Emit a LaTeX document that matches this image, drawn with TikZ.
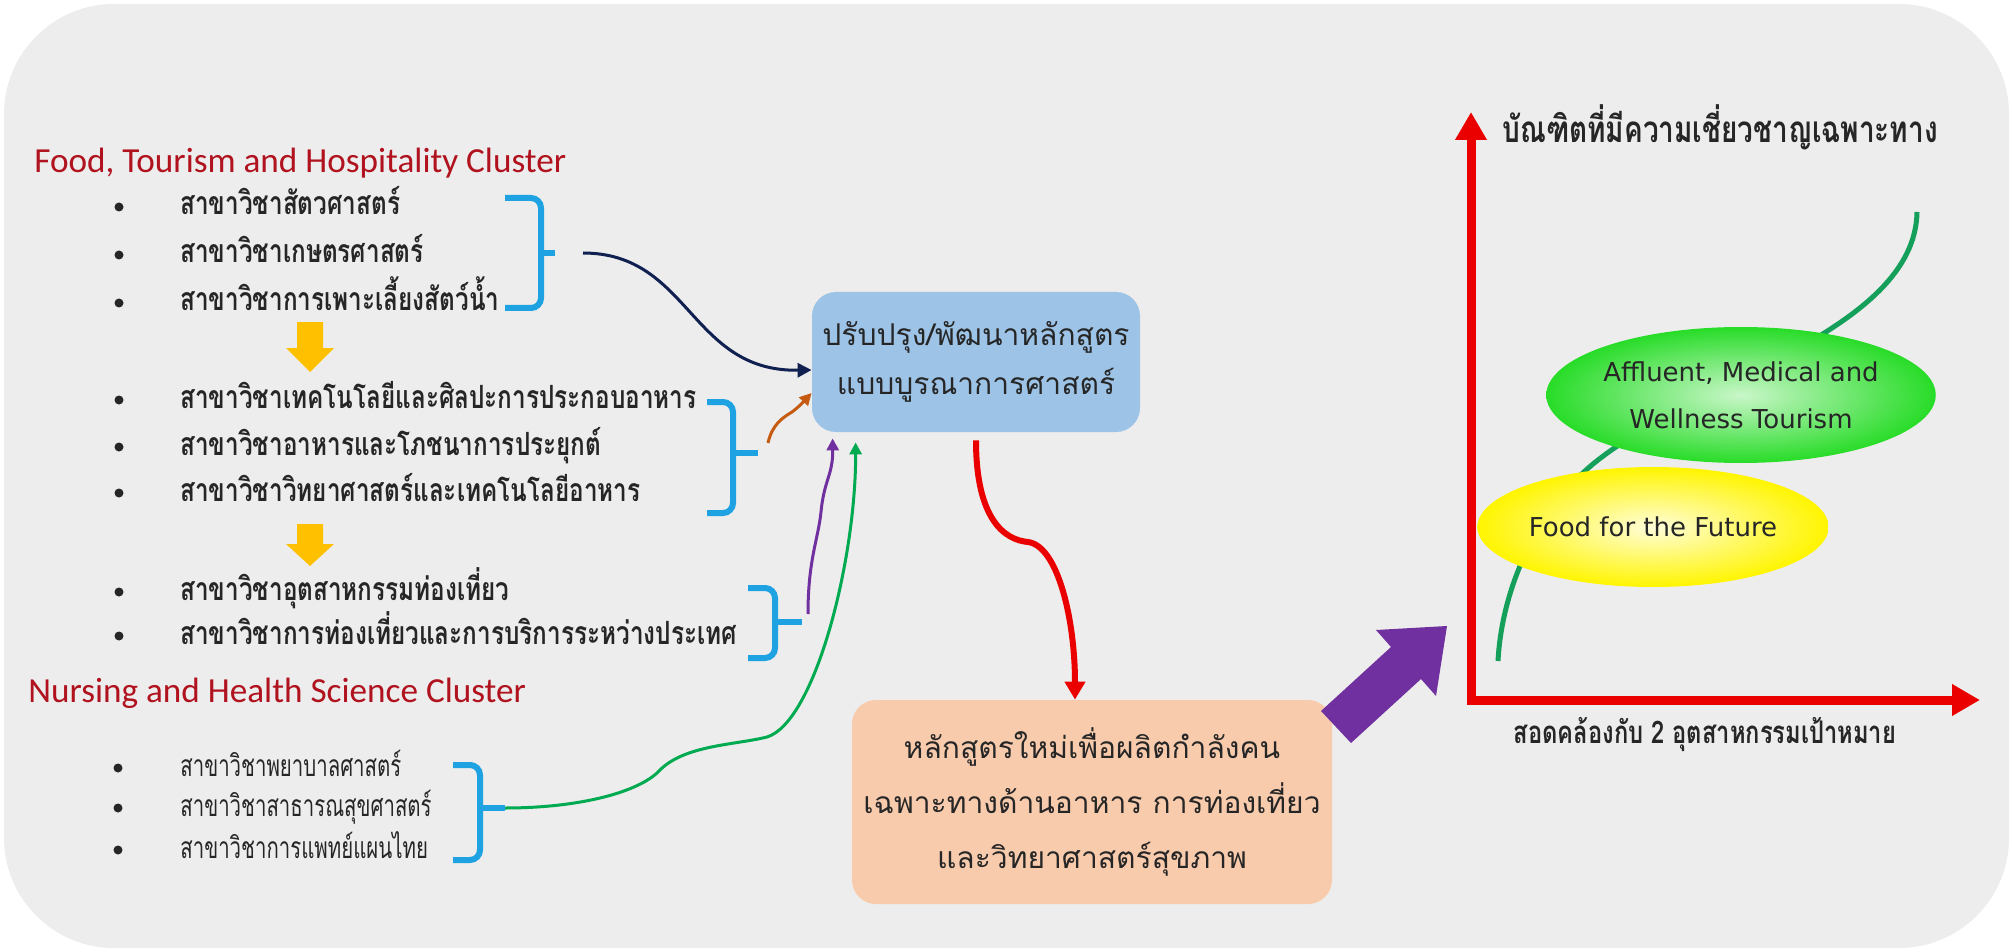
\documentclass[tikz,border=0pt]{standalone}
\usepackage{fontspec}
\setmainfont{Carlito}
\newfontfamily\thaifont[Script=Thai]{Loma}
\newfontfamily\thaicond[Script=Thai,FakeStretch=0.76]{Loma}
\newfontfamily\thainarrow[Script=Thai,FakeStretch=0.68]{Loma}
\newfontfamily\engfont{DejaVu Sans}
\usetikzlibrary{shapes}
\usetikzlibrary{positioning}
\usetikzlibrary{arrows.meta}
\definecolor{panelgray}{RGB}{237,237,237}
\definecolor{clusterred}{RGB}{176,18,30}
\definecolor{bracecyan}{RGB}{30,162,226}
\definecolor{boxblue}{RGB}{157,195,230}
\definecolor{boxpeach}{RGB}{248,203,173}
\definecolor{amber}{RGB}{255,192,0}
\definecolor{navyline}{RGB}{16,32,80}
\definecolor{rustline}{RGB}{197,90,17}
\definecolor{violetline}{RGB}{112,48,160}
\definecolor{grassline}{RGB}{0,170,80}
\definecolor{axisred}{RGB}{235,0,0}
\definecolor{curvegreen}{RGB}{20,160,90}
\definecolor{limegreen}{RGB}{40,220,40}
\definecolor{lemon}{RGB}{255,245,0}
\tikzset{
    mycluster/.style = {anchor=west, inner sep=0pt, font=\fontsize{17.6}{18}\selectfont, text=clusterred},
    mybullet/.style = {circle, fill=black!85, inner sep=0pt, minimum size=4.5pt},
    myitem/.style = {anchor=base west, inner sep=0pt, font=\thaicond\bfseries\fontsize{16}{16}\selectfont, text=black!85},
    myitemn/.style = {anchor=base west, inner sep=0pt, font=\thainarrow\fontsize{15}{15}\selectfont, text=black!85},
    mybox/.style = {rounded corners=12pt, align=center, inner sep=0pt, text=black!85},
    myell/.style = {ellipse, inner sep=0pt, align=center, font=\engfont\fontsize{13}{23.5}\selectfont, text=black!85},
    mylabel/.style = {inner sep=0pt, font=\thaicond\bfseries, text=black!85},
    brace/.style = {line width=3pt, bracecyan, rounded corners=5pt},
    yarrow/.style = {fill=amber},
    edgenavy/.style = {line width=1.5pt, navyline, -{Triangle[length=7pt,width=7pt]}},
    edgerust/.style = {line width=1.5pt, rustline, -{Triangle[length=6pt,width=6pt]}},
    edgeviolet/.style = {line width=1.5pt, violetline, -{Triangle[length=6pt,width=6pt]}},
    edgegrass/.style = {line width=1.5pt, grassline, -{Triangle[length=6pt,width=6pt]}},
    edgered/.style = {line width=3pt, axisred, -{Triangle[length=9pt,width=10pt]}},
    axis/.style = {line width=4.5pt, axisred, line join=miter, {Triangle[length=14pt,width=15pt]}-{Triangle[length=14pt,width=15pt]}},
}

\begin{document}
\begin{tikzpicture}[x=0.5pt,y=-0.5pt]
\useasboundingbox (0,0) rectangle (2013,952);
\fill[panelgray, rounded corners=55pt] (4,4) rectangle (2009,948);

% clusters
\node[mycluster] at (  34, 163) (clfood) {Food, Tourism and Hospitality Cluster};
\node[mycluster] at (  28, 693) (clnurse) {Nursing and Health Science Cluster};

% group 1
\node[mybullet] at ( 119, 207) (d1) {};
\node[mybullet] at ( 119, 255) (d2) {};
\node[mybullet] at ( 119, 303) (d3) {};
\node[myitem] at ( 180, 215) (a1) {สาขาวิชาสัตวศาสตร์};
\node[myitem] at ( 180, 263) (a2) {สาขาวิชาเกษตรศาสตร์};
\node[myitem] at ( 180, 311) (a3) {สาขาวิชาการเพาะเลี้ยงสัตว์น้ำ};
\draw[brace] (505,198) -- (541,198) -- (541,308) -- (505,308);
\draw[brace] (541,253) -- (555,253);
\coordinate (tipA) at (555,253);

% group 2
\fill[yarrow, shift={(310,322)}] (-13,0) -- (13,0) -- (13,26) -- (24,26) -- (0,50) -- (-24,26) -- (-13,26) -- cycle;
\node[mybullet] at ( 119, 400) (d4) {};
\node[mybullet] at ( 119, 447) (d5) {};
\node[mybullet] at ( 119, 493) (d6) {};
\node[myitem] at ( 180, 408) (b1) {สาขาวิชาเทคโนโลยีและศิลปะการประกอบอาหาร};
\node[myitem] at ( 180, 455) (b2) {สาขาวิชาอาหารและโภชนาการประยุกต์};
\node[myitem] at ( 180, 501) (b3) {สาขาวิชาวิทยาศาสตร์และเทคโนโลยีอาหาร};
\draw[brace] (707,402) -- (733,402) -- (733,513) -- (707,513);
\draw[brace] (733,453) -- (758,453);
\coordinate (tipB) at (758,453);

% group 3
\fill[yarrow, shift={(310,524)}] (-13,0) -- (13,0) -- (13,20) -- (24,20) -- (0,42) -- (-24,20) -- (-13,20) -- cycle;
\node[mybullet] at ( 119, 592) (d7) {};
\node[mybullet] at ( 119, 636) (d8) {};
\node[myitem] at ( 180, 600) (c1) {สาขาวิชาอุตสาหกรรมท่องเที่ยว};
\node[myitem] at ( 180, 644) (c2) {สาขาวิชาการท่องเที่ยวและการบริการระหว่างประเทศ};
\draw[brace] (748,588) -- (775,588) -- (775,658) -- (748,658);
\draw[brace] (775,622) -- (802,622);
\coordinate (tipC) at (802,622);

% group 4
\node[mybullet] at ( 118, 768) (d9) {};
\node[mybullet] at ( 118, 808) (d10) {};
\node[mybullet] at ( 118, 850) (d11) {};
\node[myitemn] at ( 180, 776) (e1) {สาขาวิชาพยาบาลศาสตร์};
\node[myitemn] at ( 180, 816) (e2) {สาขาวิชาสาธารณสุขศาสตร์};
\node[myitemn] at ( 180, 858) (e3) {สาขาวิชาการแพทย์แผนไทย};
\draw[brace] (453,765) -- (480,765) -- (480,860) -- (453,860);
\draw[brace] (480,808) -- (505,808);
\coordinate (tipD) at (505,808);

% boxes
\node[mybox, fill=boxblue, minimum width=164pt, minimum height=70pt,
      font=\thaifont\fontsize{15}{24.5}\selectfont] at ( 976, 362) (blue)
      {ปรับปรุง/พัฒนาหลักสูตร\\แบบบูรณาการศาสตร์};
\node[mybox, fill=boxpeach, minimum width=240pt, minimum height=102pt,
      font=\thaifont\fontsize{15}{27.5}\selectfont] at (1092, 802) (peach)
      {หลักสูตรใหม่เพื่อผลิตกำลังคน\\เฉพาะทางด้านอาหาร การท่องเที่ยว\\และวิทยาศาสตร์สุขภาพ};

% connectors
\draw[edgenavy] ([xshift=14pt]tipA) .. controls (690,253) and (690,372) .. ([yshift=-4pt]blue.west);
\draw[edgerust] ([xshift=5pt,yshift=5pt]tipB) .. controls (772,425) and (782,418) .. (792,412) .. controls (800,406) and (805,400) .. ([yshift=-15.5pt]blue.west);
\draw[edgeviolet] ([xshift=3pt,yshift=4pt]tipC) .. controls (808,560) and (818,540) .. (821,512) .. controls (824,480) and (833,475) .. ([xshift=10.5pt,yshift=-3pt]blue.south west);
\draw[edgegrass] (tipD) .. controls (580,808) and (640,792) .. (660,770) .. controls (685,745) and (735,745) .. (767,737) .. controls (815,722) and (856,560) .. ([xshift=22pt,yshift=-5pt]blue.south west);
\draw[edgered] ([yshift=-4pt]blue.south) .. controls (976,520) and (1005,540) .. (1028,542) .. controls (1058,546) and (1075,620) .. ([xshift=-8.5pt]peach.north);

% big arrow
\fill[violetline] (1321,711) -- (1391,647) -- (1376,630) -- (1447,626) -- (1436,696) -- (1421,679) -- (1351,743) -- cycle;

% graph
\coordinate (origin) at (1471,700);
\coordinate (ytip) at (1471,112);
\coordinate (xtip) at (1980,700);
\draw[axis] (ytip) -- (origin) -- (xtip);
\node[mylabel, font=\thaicond\bfseries\fontsize{18.4}{19}\selectfont] at (1720,127) (ylab) {บัณฑิตที่มีความเชี่ยวชาญเฉพาะทาง};
\node[mylabel, font=\thaicond\bfseries\fontsize{15.6}{16}\selectfont] at (1705,735) (xlab) {สอดคล้องกับ 2 อุตสาหกรรมเป้าหมาย};
\coordinate (gstart) at (1498,661);
\coordinate (gmid) at (1598,460);
\coordinate (gend) at (1917,212);
\draw[curvegreen, line width=2.5pt] (gstart) .. controls (1502,585) and (1540,505) .. (gmid) .. controls (1700,380) and (1915,330) .. (gend);
\node[myell, shade, inner color=white!75!limegreen, outer color=limegreen, minimum width=169pt, minimum height=68pt] at (1741,395) (affl) {Affluent, Medical and\\Wellness Tourism};
\node[myell, shade, inner color=white!85!lemon, outer color=lemon, minimum width=168pt, minimum height=60pt] at (1653,527) (food) {Food for the Future};

\end{tikzpicture}
\end{document}
